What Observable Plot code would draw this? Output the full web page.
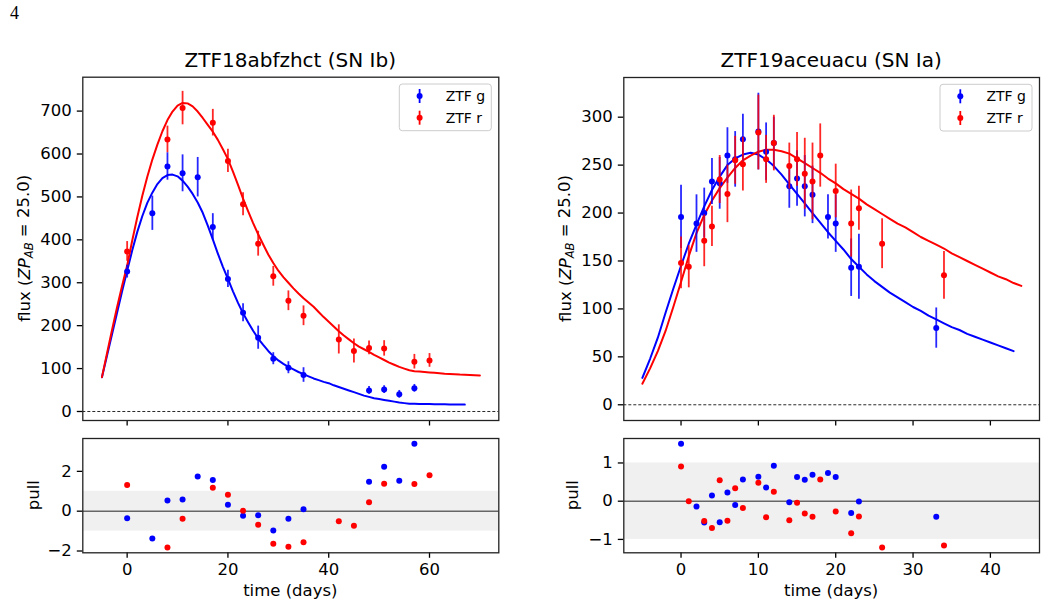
<!DOCTYPE html>
<html><head><meta charset="utf-8">
<script src="https://cdn.jsdelivr.net/npm/d3@7"></script>
<script src="https://cdn.jsdelivr.net/npm/@observablehq/plot@0.6"></script>
<style>
html,body{margin:0;padding:0;background:#fff;}
#fig{position:relative;width:1046px;height:608px;overflow:hidden;font-family:"DejaVu Sans",sans-serif;background:#fff;}
#fig svg{position:absolute;left:0;top:0;}
</style></head><body><div id="fig"></div>
<script>
// ---------- ZTF18abfzhct (SN Ib) ----------
const ibGTime = [0,5,8,11,14,17,20,23,26,29,32,35,48,51,54,57];
const ibGFlux = [326,462,571,555,546,430,309,230,172,123,102,85,49,51,40,54];
const ibGErr  = [15,40,32,43,46,31,20,21,27,14,14,17,9,9,9,9];
const ibGPull = [-0.35,-1.37,0.54,0.59,1.74,1.56,0.32,-0.23,-0.20,-0.97,-0.38,0.10,1.48,2.23,1.53,3.39];

const ibRTime = [0,8,11,17,20,23,26,29,32,35,42,45,48,51,57,60];
const ibRFlux = [373,634,707,673,584,483,391,315,258,223,168,141,148,147,116,119];
const ibRErr  = [23,31,39,31,27,27,29,23,23,23,34,28,16,18,17,16];
const ibRPull = [1.31,-1.82,-0.38,1.18,0.82,0.02,-0.68,-1.64,-1.79,-1.56,-0.50,-0.73,0.45,1.38,1.36,1.81];

const ibGModelTime = [-5,-4,-3,-2,-1,0,1,2,3,4,5,6,7,8,9,10,11,12,13,14,15,16,17,18,19,20,21,22,23,24,25,26,27,28,29,30,31,32,33,34,35,36,37,38,39,40,41,42,43,44,45,46,47,48,49,50,51,52,53,54,55,56,57,58,59,60,61,62,63,64,65,66,67];
const ibGModelFlux = [80,130,180,230,280,328,375,418,455,486,510,530,544,551,552,548,538,524,507,487,463,433,401,368,337,309,280,253,229,208,188,170,155,141,129,119,111,104,98,92,87,82,77,73,69,66,61,57,53,49,45,41,37,34,31,29,27,25,23,21,19.5,18,17.8,17.6,17.4,17.2,17,16.8,16.6,16.4,16.2,16.1,16];
const ibRModelTime = [-5,-4,-3,-2,-1,0,1,2,3,4,5,6,7,8,9,10,11,12,13,14,15,16,17,18,19,20,21,22,23,24,25,26,27,28,29,30,31,32,33,34,35,36,37,38,39,40,41,42,43,44,45,46,47,48,49,50,51,52,53,54,55,56,57,58,59,60,61,62,63,64,65,66,67,68,69,70];
const ibRModelFlux = [80,135,190,243,293,340,398,452,502,547,587,622,653,679,699,713,719,718,711,699,684,668,652,633,611,588,559,528,496,467,439,413,389,366,346,328,313,300,287,275,264,254,244,232,220,209,198,187,177,168,159,151,145,139,132,126,120,114,109,104,100,96,94,93,92,91,90,89,88,87.5,87,86,85.5,85,84.5,84];

// ---------- ZTF19aceuacu (SN Ia) ----------
const iaGTime = [0,2,3,4,5,6,7,8,10,11,12,14,15,16,17,19,20,22,23,33];
const iaGFlux = [196,189,200,233,231,260,256,277,285,264,273,228,236,228,219,196,189,143,144,80];
const iaGErr  = [33,30,26,24,27,29,29,26,40,30,27,23,29,32,30,23,30,30,34,21];
const iaGPull = [1.50,-0.14,-0.56,0.15,-0.55,0.23,-0.10,0.57,0.64,0.36,0.93,-0.03,0.63,0.56,0.69,0.74,0.63,-0.31,-0.01,-0.41];

const iaRTime = [0,1,3,4,5,6,7,8,10,11,12,14,15,16,17,18,20,22,23,26,34];
const iaRFlux = [148,144,171,186,235,220,255,251,284,256,273,249,256,241,233,260,223,189,205,168,135];
const iaRErr  = [27,22,27,21,25,30,25,28,39,25,29,24,28,37,40,33,28,35,23,26,25];
const iaRPull = [0.91,0.00,-0.52,-0.70,0.55,-0.51,0.34,-0.18,0.48,-0.42,0.25,-0.50,-0.04,-0.32,-0.41,0.57,-0.27,-0.84,-0.40,-1.21,-1.16];

const iaGModelTime = [-5,-4,-3,-2,-1,0,1,2,3,4,5,6,7,8,9,10,11,12,13,14,15,16,17,18,19,20,21,22,23,24,25,26,27,28,29,30,31,32,33,34,35,36,37,38,39,40,41,42,43];
const iaGModelFlux = [28,48,70,96,121,145,168,188,207,224,238,250,257,261,263,261,256,249,240,230,220,210,200,190,180,171,162,152,144,136,129,123,117,112,107,102,98,93,89,85,81,78,74,71,68,65,62,59,56];
const iaRModelTime = [-5,-4,-3,-2,-1,0,1,2,3,4,5,6,7,8,9,10,11,12,13,14,15,16,17,18,19,20,21,22,23,24,25,26,27,28,29,30,31,32,33,34,35,36,37,38,39,40,41,42,43,44];
const iaRModelFlux = [22,38,56,77,102,128,155,179,198,213,226,237,247,255,260,264,266,266,264.5,262,257,252,247,242,236,231,225,220,215,209,204,199,194,189,185,180,175,171,167,163,158,154,150,146,142,138,134,131,127,124];

// ---------- axes / text ----------
const ibXTicks = [0,20,40,60];
const iaXTicks = [0,10,20,30,40];
const ibYTicks = [0,100,200,300,400,500,600,700];
const iaYTicks = [0,50,100,150,200,250,300];
const ibPullTicks = [-2,0,2];
const iaPullTicks = [-1,0,1];
const pullBand = [-1, 1];
const titles = ["ZTF18abfzhct (SN Ib)", "ZTF19aceuacu (SN Ia)"];
const legendLabels = ["ZTF g", "ZTF r"];
const bandColors = ["#0000ff", "#ff0000"];
const xLabel = "time (days)";
const pageNumber = "4";

const W = 1046, H = 608;
const fmt = d => (d < 0 ? "\u2212" + Math.abs(d) : String(d));
const rows = (ts, fs, es) => ts.map((t, i) => ({t, f: fs[i], e: es ? es[i] : 0}));

// frame boxes [x0, x1, y0, y1] in page pixels
const boxIbMain = [82.3, 498.3, 76.7, 420];
const boxIaMain = [623.3, 1039, 77, 420];
const boxIbPull = [82.3, 498.3, 438, 552.3];
const boxIaPull = [623.3, 1039, 438, 552.3];
const ibXDomain = [-8.8, 73.75];
const iaXDomain = [-7.4, 46.35];

function frameOpts(box) {
  return {
    width: W, height: H,
    marginLeft: box[0], marginRight: W - box[1], marginTop: box[2], marginBottom: H - box[3],
    style: {background: "transparent", fontFamily: "DejaVu Sans", fontSize: "16.5px", color: "#000", overflow: "visible"}
  };
}

function mainPanel(box, xDomain, yDomain, xTicks, yTicks, g, r, gm, rm) {
  return Plot.plot({
    ...frameOpts(box),
    x: {domain: xDomain}, y: {domain: yDomain},
    marks: [
      Plot.ruleY([0], {stroke: "#111", strokeWidth: 0.9, strokeDasharray: "3,2"}),
      Plot.line(gm, {x: "t", y: "f", stroke: bandColors[0], strokeWidth: 2}),
      Plot.line(rm, {x: "t", y: "f", stroke: bandColors[1], strokeWidth: 2}),
      Plot.ruleX(g, {x: "t", y1: d => d.f - d.e, y2: d => d.f + d.e, stroke: bandColors[0], strokeWidth: 1.8, strokeOpacity: 0.85}),
      Plot.dot(g, {x: "t", y: "f", r: 3, fill: bandColors[0]}),
      Plot.ruleX(r, {x: "t", y1: d => d.f - d.e, y2: d => d.f + d.e, stroke: bandColors[1], strokeWidth: 1.8, strokeOpacity: 0.85}),
      Plot.dot(r, {x: "t", y: "f", r: 3, fill: bandColors[1]}),
      Plot.axisY({ticks: yTicks, tickSize: 5.5, tickPadding: 5.5, tickFormat: fmt, label: null, strokeWidth: 1.3}),
      Plot.axisX({ticks: xTicks, tickSize: 5.5, tickFormat: () => "", label: null, strokeWidth: 1.3}),
      Plot.frame({stroke: "#222", strokeWidth: 1.3})
    ]
  });
}

function pullPanel(box, xDomain, yDomain, xTicks, yTicks, g, r) {
  return Plot.plot({
    ...frameOpts(box),
    x: {domain: xDomain}, y: {domain: yDomain},
    marks: [
      Plot.rect([pullBand], {x1: () => xDomain[0], x2: () => xDomain[1], y1: d => d[0], y2: d => d[1], fill: "#f0f0f0"}),
      Plot.ruleY([0], {stroke: "#666", strokeWidth: 1.5}),
      Plot.dot(g, {x: "t", y: "f", r: 3, fill: bandColors[0]}),
      Plot.dot(r, {x: "t", y: "f", r: 3, fill: bandColors[1]}),
      Plot.axisY({ticks: yTicks, tickSize: 5.5, tickPadding: 5.5, tickFormat: fmt, label: null, strokeWidth: 1.3}),
      Plot.axisX({ticks: xTicks, tickSize: 5.5, tickPadding: 5, tickFormat: fmt, label: null, strokeWidth: 1.3}),
      Plot.frame({stroke: "#222", strokeWidth: 1.3})
    ]
  });
}

const fig = document.getElementById("fig");
fig.append(mainPanel(boxIbMain, ibXDomain, [-21, 779], ibXTicks, ibYTicks,
  rows(ibGTime, ibGFlux, ibGErr), rows(ibRTime, ibRFlux, ibRErr),
  rows(ibGModelTime, ibGModelFlux), rows(ibRModelTime, ibRModelFlux)));
fig.append(mainPanel(boxIaMain, iaXDomain, [-16.4, 341.4], iaXTicks, iaYTicks,
  rows(iaGTime, iaGFlux, iaGErr), rows(iaRTime, iaRFlux, iaRErr),
  rows(iaGModelTime, iaGModelFlux), rows(iaRModelTime, iaRModelFlux)));
fig.append(pullPanel(boxIbPull, ibXDomain, [-2.09, 3.65], ibXTicks, ibPullTicks,
  rows(ibGTime, ibGPull), rows(ibRTime, ibRPull)));
fig.append(pullPanel(boxIaPull, iaXDomain, [-1.35, 1.64], iaXTicks, iaPullTicks,
  rows(iaGTime, iaGPull), rows(iaRTime, iaRPull)));

// ---------- text overlay: titles, labels, legends ----------
const ov = d3.select(fig).append("svg").attr("width", W).attr("height", H)
  .style("font-family", "DejaVu Sans").style("pointer-events", "none");

ov.append("text").attr("x", 10).attr("y", 19).attr("font-family", "Liberation Serif, DejaVu Serif, serif")
  .attr("font-size", 18).text(pageNumber);

[[boxIbMain, titles[0]], [boxIaMain, titles[1]]].forEach(([b, t]) => {
  ov.append("text").attr("x", (b[0] + b[1]) / 2).attr("y", 67).attr("text-anchor", "middle")
    .attr("font-size", 20).text(t);
});
[boxIbPull, boxIaPull].forEach(b => {
  ov.append("text").attr("x", (b[0] + b[1]) / 2).attr("y", 596).attr("text-anchor", "middle")
    .attr("font-size", 16.5).text(xLabel);
});

function fluxLabel(x, yc) {
  const t = ov.append("text").attr("transform", `translate(${x},${yc}) rotate(-90)`)
    .attr("text-anchor", "middle").attr("font-size", 16.5).attr("xml:space", "preserve");
  t.append("tspan").text("flux (");
  t.append("tspan").attr("font-style", "italic").text("ZP");
  t.append("tspan").attr("font-style", "italic").attr("font-size", 11.5).attr("dy", "0.3em").text("AB");
  t.append("tspan").attr("dy", "-0.3em").text(" = 25.0)");
}
fluxLabel(30, (boxIbMain[2] + boxIbMain[3]) / 2);
fluxLabel(571, (boxIaMain[2] + boxIaMain[3]) / 2);
[[38.5, boxIbPull], [578, boxIaPull]].forEach(([x, b]) => {
  ov.append("text").attr("transform", `translate(${x},${(b[2] + b[3]) / 2}) rotate(-90)`)
    .attr("text-anchor", "middle").attr("font-size", 16.5).text("pull");
});

function legend(box) {
  const bx = box[1] - 99, by = box[2] + 7.3, bw = 92, bh = 46.7;
  const g = ov.append("g");
  g.append("rect").attr("x", bx).attr("y", by).attr("width", bw).attr("height", bh).attr("rx", 3)
    .attr("fill", "#fff").attr("fill-opacity", 0.8).attr("stroke", "#cccccc").attr("stroke-width", 1);
  legendLabels.forEach((lab, i) => {
    const cy = by + 12 + i * 21.7, cx = bx + 20.3;
    g.append("line").attr("x1", cx).attr("x2", cx).attr("y1", cy - 7).attr("y2", cy + 7)
      .attr("stroke", bandColors[i]).attr("stroke-width", 1.8);
    g.append("circle").attr("cx", cx).attr("cy", cy).attr("r", 3).attr("fill", bandColors[i]);
    g.append("text").attr("x", bx + 46.4).attr("y", cy + 5).attr("font-size", 14).text(lab);
  });
}
legend(boxIbMain);
legend(boxIaMain);
</script></body></html>
